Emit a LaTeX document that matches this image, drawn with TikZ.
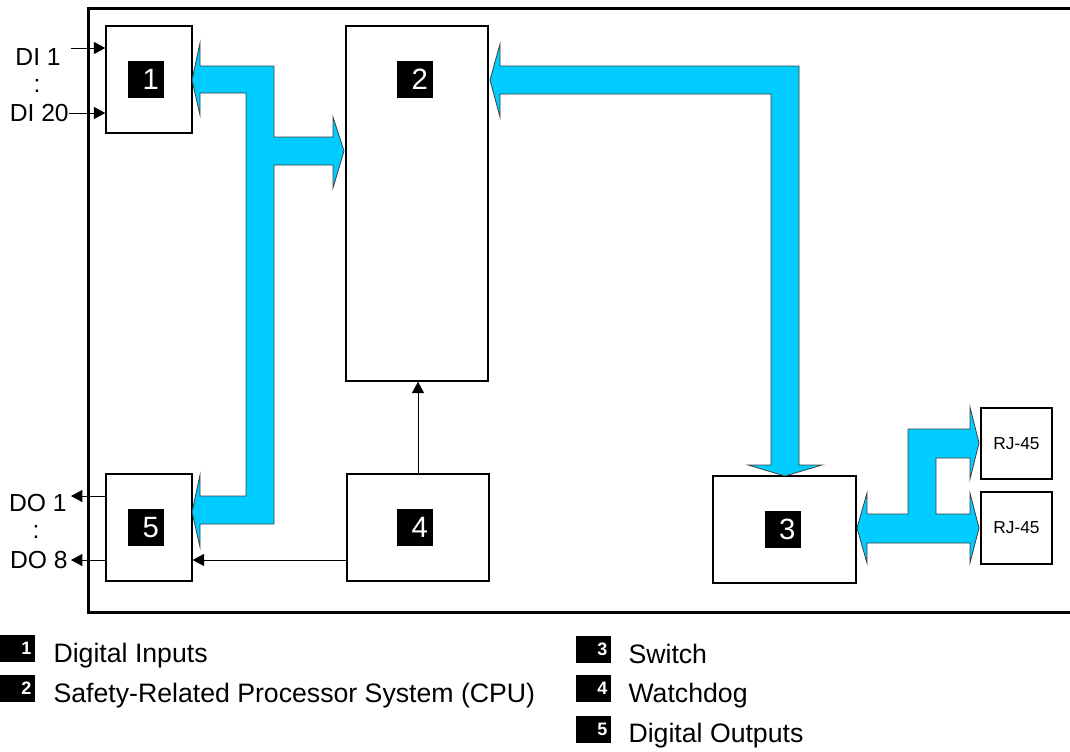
\documentclass[tikz,border=0pt]{standalone}
\usepackage{fontspec}
\setmainfont{Liberation Sans}
\usetikzlibrary{arrows.meta,positioning,calc}
\newcommand{\px}{0.75pt}
\definecolor{busblue}{RGB}{0,204,255}
\tikzset{
  block/.style args={#1/#2}{draw, line width=1.1pt, minimum width=#1*\px,
    minimum height=#2*\px, inner sep=0pt},
  badge/.style={fill=black, text=white, font=\fontsize{22}{22}\selectfont,
    minimum height=37*\px, text width=26*\px, align=right,
    inner xsep=5*\px, inner ysep=0pt},
  legbadge/.style={badge, font=\fontsize{13.5}{13.5}\selectfont\bfseries,
    minimum height=27*\px, text width=28*\px, inner xsep=3.5*\px},
  legtext/.style={font=\fontsize{20}{20}\selectfont, inner sep=0pt, anchor=base west},
  iolabel/.style={font=\fontsize{18.5}{18.5}\selectfont, inner sep=0pt},
  sig/.style={line width=0.75pt, -{Triangle[length=8.5pt,width=9pt]}},
  bus/.style={fill=busblue, draw=black!75, line width=0.6pt},
  frame/.style={line width=2.25pt}
}
\begin{document}
\begin{tikzpicture}[x=\px, y=-\px]
        \useasboundingbox (0,0) rectangle (1070,751);
        %% Housing
        \draw[frame] (1070,8) -- (88,8) -- (88,612) -- (1070,612);
        %% Blocks
        \node[block=86/107] (din) at (149,79.5) {};
        \node[block=142/355] (cpu) at (417,203.5) {};
        \node[block=143/107] (sw) at (784.5,529.5) {};
        \node[block=142/107] (wdg) at (418,527.5) {};
        \node[block=86/107] (dout) at (149,527.5) {};
        \node[block=71/71, font=\fontsize{13}{13}\selectfont] (rja) at (1016.5,443.5) {RJ-45};
        \node[block=71/72, font=\fontsize{13}{13}\selectfont] (rjb) at (1016.5,528) {RJ-45};
        %% Numbers
        \node[badge] (n1) at (146,79.5) {1};
        \node[badge] (n2) at (415,79.5) {2};
        \node[badge] (n3) at (782.5,529) {3};
        \node[badge] (n4) at (415,527.5) {4};
        \node[badge] (n5) at (146,527.5) {5};
        %% Buses
        \draw[bus] (192,80) -- (200,43) -- (200,66) -- (274,66) -- (274,137)
          -- (333,137) -- (333,117) -- (344,151) -- (333,188) -- (333,165)
          -- (274,165) -- (274,524) -- (200,524) -- (200,547) -- (192,512)
          -- (200,475) -- (200,496) -- (246,496) -- (246,93) -- (200,93)
          -- (200,115) -- cycle;
        \draw[bus] (490,80) -- (500,44) -- (500,66) -- (799,66) -- (799,465)
          -- (822,465) -- (785,476) -- (748,465) -- (771,465) -- (771,94)
          -- (500,94) -- (500,117) -- cycle;
        \draw[bus] (857,528) -- (867,493) -- (867,514) -- (908,514) -- (908,429)
          -- (970,429) -- (970,407) -- (979,443) -- (970,479) -- (970,458)
          -- (936,458) -- (936,514) -- (970,514) -- (970,493) -- (979,528)
          -- (970,563) -- (970,543) -- (867,543) -- (867,563) -- cycle;
        %% Inputs and outputs
        \node[iolabel, anchor=base east] (ldi1) at (61,65) {DI 1};
        \node[iolabel] (ldic) at (37,86) {:};
        \node[iolabel, anchor=base east] (ldi20) at (69,121) {DI 20};
        \node[iolabel, anchor=base east] (ldo1) at (67,511) {DO 1};
        \node[iolabel] (ldoc) at (36,532) {:};
        \node[iolabel, anchor=base east] (ldo8) at (68,568) {DO 8};
        \coordinate (di1) at (71,48);
        \coordinate (di20) at (69,113);
        \coordinate (do1) at (71,496);
        \coordinate (do8) at (71,560);
        \coordinate (wd) at (347,560);
        \draw[sig] (di1) -- (di1 -| din.west);
        \draw[sig] (di20) -- (di20 -| din.west);
        \draw[sig] (do1 -| dout.west) -- (do1);
        \draw[sig] (do8 -| dout.west) -- (do8);
        \draw[sig] (wd) -- (wd -| dout.east);
        \draw[sig] (wdg.north) -- (wdg.north |- cpu.south);
        %% Legend
        \node[legbadge] (leg1) at (17.5,648.5) {1};
        \node[legbadge] (leg2) at (17.5,688.5) {2};
        \node[legbadge] (leg3) at (593.5,649.5) {3};
        \node[legbadge] (leg4) at (593.5,688.5) {4};
        \node[legbadge] (leg5) at (593.5,729) {5};
        \node[legtext] at ([xshift=18*\px]leg1.south east) {Digital Inputs};
        \node[legtext] at ([xshift=18*\px]leg2.south east) {Safety-Related Processor System (CPU)};
        \node[legtext] at ([xshift=17*\px]leg3.south east) {Switch};
        \node[legtext] at ([xshift=17*\px]leg4.south east) {Watchdog};
        \node[legtext] at ([xshift=17*\px]leg5.south east) {Digital Outputs};
\end{tikzpicture}
\end{document}
